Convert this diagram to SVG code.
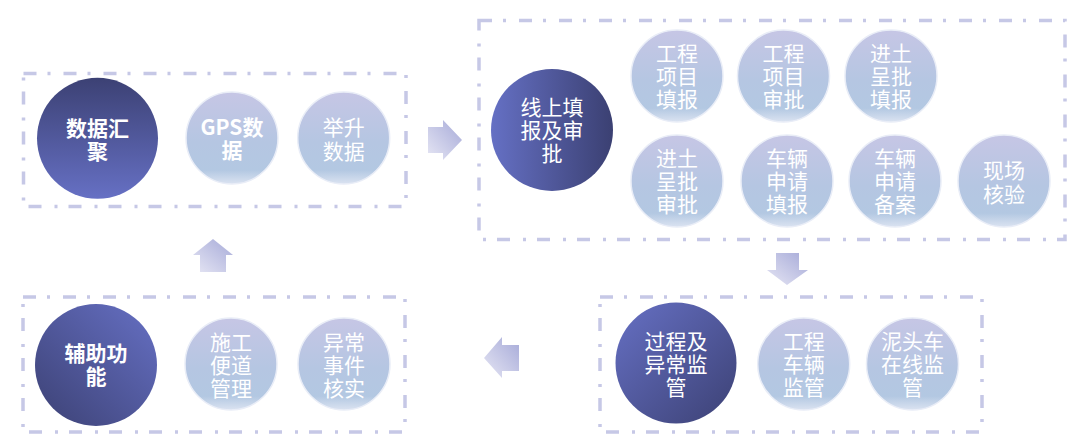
<svg xmlns="http://www.w3.org/2000/svg" width="1080" height="447" viewBox="0 0 1080 447">
  <defs>
    <style>
      .frame { fill: none; stroke: #c6c8e6; stroke-width: 3.5; stroke-dasharray: 13 11 3 13; }
      .lite { fill: url(#gLite); stroke: #e9edf7; stroke-width: 1.5; }
      .t, .t tspan { font-family: "Noto Sans CJK SC", "Noto Sans", sans-serif; font-size: 21px; fill: #ffffff; text-anchor: middle; dominant-baseline: central; }
      .b, .b tspan { font-weight: bold; }
      .arrow { fill: url(#gArrow); }
    </style>
    <linearGradient id="gLite" x1="0" y1="0" x2="0" y2="1">
      <stop offset="0" stop-color="#c6c6e5"/>
      <stop offset="0.55" stop-color="#b5c6e2"/>
      <stop offset="0.85" stop-color="#b3c8e2"/>
      <stop offset="1" stop-color="#dbe3f1"/>
    </linearGradient>
    <linearGradient id="gDarkV" x1="0" y1="0" x2="0" y2="1">
      <stop offset="0" stop-color="#3c4174"/>
      <stop offset="1" stop-color="#6670c4"/>
    </linearGradient>
    <linearGradient id="gDarkH" x1="0" y1="0" x2="1" y2="0">
      <stop offset="0" stop-color="#6570c4"/>
      <stop offset="1" stop-color="#3b4072"/>
    </linearGradient>
    <linearGradient id="gDarkD1" x1="0" y1="0" x2="1" y2="1">
      <stop offset="0" stop-color="#6670c4"/>
      <stop offset="1" stop-color="#3c4174"/>
    </linearGradient>
    <linearGradient id="gDarkD2" x1="1" y1="0" x2="0" y2="1">
      <stop offset="0" stop-color="#6670c4"/>
      <stop offset="1" stop-color="#3c4174"/>
    </linearGradient>
    <linearGradient id="gArrow" x1="1" y1="0" x2="0" y2="1">
      <stop offset="0" stop-color="#a6aad8"/>
      <stop offset="1" stop-color="#e6e6f4"/>
    </linearGradient>
  </defs>

  <g id="connectors">
    <polygon class="arrow" points="428,127 443,127 443,120 462,140 443,160 443,153 428,153"/>
    <polygon class="arrow" points="776,253 799,253 799,270 808,270 787,285 767,270 776,270"/>
    <polygon class="arrow" points="519,345 502,345 502,337 484,358 502,378 502,371 519,371"/>
    <polygon class="arrow" points="200,272 200,255 193,255 213,239 233,255 226,255 226,272"/>
  </g>

  <g id="group-data">
    <rect class="frame" x="23.5" y="73.5" width="382.5" height="133"/>
    <g id="n-data">
      <circle cx="97.5" cy="138.3" r="60.5" fill="url(#gDarkV)"/>
      <text class="t b"><tspan x="97.5" y="127">数据汇</tspan><tspan x="97.5" y="150">聚</tspan></text>
    </g>
    <g id="n-gps">
      <circle class="lite" cx="232" cy="138" r="46"/>
      <text class="t b"><tspan x="232" y="126">GPS数</tspan><tspan x="232" y="149">据</tspan></text>
    </g>
    <g id="n-lift">
      <circle class="lite" cx="343.7" cy="138" r="46"/>
      <text class="t"><tspan x="343.7" y="126">举升</tspan><tspan x="343.7" y="150">数据</tspan></text>
    </g>
  </g>

  <g id="group-online">
    <rect class="frame" x="479" y="20.5" width="586" height="219"/>
    <g id="n-online">
      <circle cx="552" cy="130" r="61" fill="url(#gDarkH)"/>
      <text class="t"><tspan x="552" y="106">线上填</tspan><tspan x="552" y="129">报及审</tspan><tspan x="552" y="152">批</tspan></text>
    </g>
    <g id="n-proj-fill">
      <circle class="lite" cx="677" cy="76" r="46"/>
      <text class="t"><tspan x="677" y="52">工程</tspan><tspan x="677" y="75">项目</tspan><tspan x="677" y="98">填报</tspan></text>
    </g>
    <g id="n-proj-approve">
      <circle class="lite" cx="783.5" cy="76" r="46"/>
      <text class="t"><tspan x="783.5" y="52">工程</tspan><tspan x="783.5" y="75">项目</tspan><tspan x="783.5" y="98">审批</tspan></text>
    </g>
    <g id="n-soil-fill">
      <circle class="lite" cx="891" cy="76" r="46"/>
      <text class="t"><tspan x="891" y="52">进土</tspan><tspan x="891" y="75">呈批</tspan><tspan x="891" y="98">填报</tspan></text>
    </g>
    <g id="n-soil-approve">
      <circle class="lite" cx="677" cy="181" r="46"/>
      <text class="t"><tspan x="677" y="157">进土</tspan><tspan x="677" y="180">呈批</tspan><tspan x="677" y="203">审批</tspan></text>
    </g>
    <g id="n-vehicle-fill">
      <circle class="lite" cx="787" cy="181" r="46"/>
      <text class="t"><tspan x="787" y="157">车辆</tspan><tspan x="787" y="180">申请</tspan><tspan x="787" y="203">填报</tspan></text>
    </g>
    <g id="n-vehicle-record">
      <circle class="lite" cx="895" cy="181" r="46"/>
      <text class="t"><tspan x="895" y="157">车辆</tspan><tspan x="895" y="180">申请</tspan><tspan x="895" y="203">备案</tspan></text>
    </g>
    <g id="n-site-check">
      <circle class="lite" cx="1004" cy="181" r="46"/>
      <text class="t"><tspan x="1004" y="169">现场</tspan><tspan x="1004" y="193">核验</tspan></text>
    </g>
  </g>

  <g id="group-monitor">
    <rect class="frame" x="600" y="297" width="382" height="135"/>
    <g id="n-monitor">
      <circle cx="676" cy="363" r="60.5" fill="url(#gDarkD1)"/>
      <text class="t"><tspan x="676" y="340">过程及</tspan><tspan x="676" y="363">异常监</tspan><tspan x="676" y="386">管</tspan></text>
    </g>
    <g id="n-eng-vehicle">
      <circle class="lite" cx="803.7" cy="364" r="46"/>
      <text class="t"><tspan x="803.7" y="340">工程</tspan><tspan x="803.7" y="363">车辆</tspan><tspan x="803.7" y="386">监管</tspan></text>
    </g>
    <g id="n-muck-truck">
      <circle class="lite" cx="912.5" cy="364" r="46"/>
      <text class="t"><tspan x="912.5" y="340">泥头车</tspan><tspan x="912.5" y="363">在线监</tspan><tspan x="912.5" y="386">管</tspan></text>
    </g>
  </g>

  <g id="group-aux">
    <rect class="frame" x="23" y="297" width="382" height="135"/>
    <g id="n-aux">
      <circle cx="96" cy="365" r="61" fill="url(#gDarkD2)"/>
      <text class="t b"><tspan x="96" y="352">辅助功</tspan><tspan x="96" y="375">能</tspan></text>
    </g>
    <g id="n-road">
      <circle class="lite" cx="231" cy="364" r="46"/>
      <text class="t"><tspan x="231" y="341">施工</tspan><tspan x="231" y="364">便道</tspan><tspan x="231" y="387">管理</tspan></text>
    </g>
    <g id="n-event">
      <circle class="lite" cx="344" cy="364" r="46"/>
      <text class="t"><tspan x="344" y="341">异常</tspan><tspan x="344" y="364">事件</tspan><tspan x="344" y="387">核实</tspan></text>
    </g>
  </g>
</svg>
